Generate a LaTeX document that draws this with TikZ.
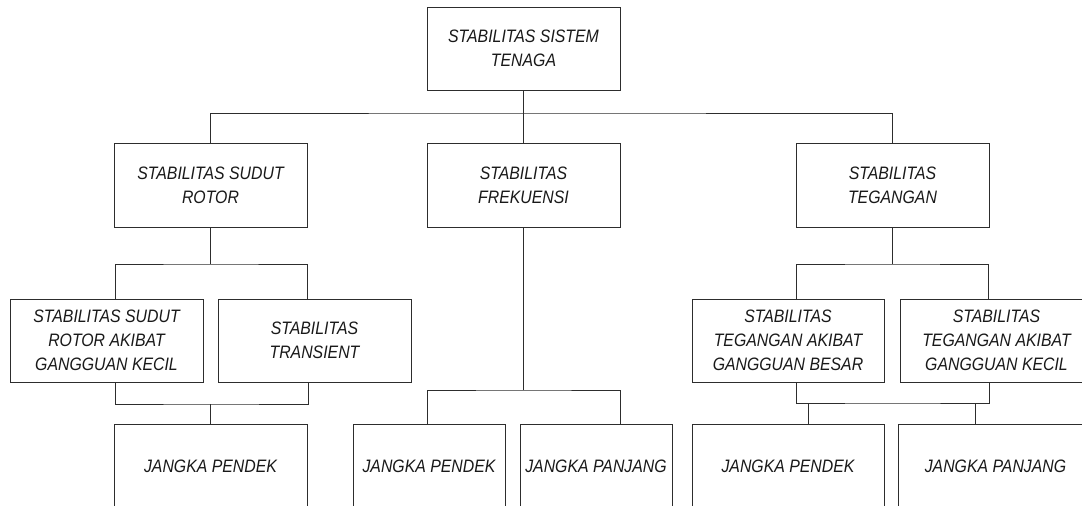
\documentclass[tikz,border=0pt]{standalone}
\usepackage{fontspec}
\setmainfont{Liberation Sans}[FakeStretch=0.88]
\definecolor{edge}{RGB}{45,45,45}
\definecolor{ink}{RGB}{25,25,25}
\begin{document}
\begin{tikzpicture}[x=1pt,y=-1pt,
  box/.style={draw=edge, line width=0.9pt, rectangle, inner sep=0pt,
    minimum width=193pt, minimum height=84pt, align=center, text=ink,
    font=\fontsize{18pt}{24pt}\selectfont\itshape},
  narrowbox/.style={box, minimum width=152pt},
  link/.style={draw=edge, line width=0.9pt}]
\useasboundingbox (0,0) rectangle (1082,506);
\clip (0,0) rectangle (1082,506);
\fill[white] (0,0) rectangle (1082,506);

% level 1
\node[box, minimum height=83pt] (top) at (523.5,48.5) {STABILITAS SISTEM\\TENAGA};

% level 2
\node[box] (rotor) at (210.5,185) {STABILITAS SUDUT\\ROTOR};
\node[box] (frek)  at (523.5,185) {STABILITAS\\FREKUENSI};
\node[box] (teg)   at (892.5,185) {STABILITAS\\TEGANGAN};

% level 3
\node[box, minimum height=83pt] (rk) at (106.5,340.5) {STABILITAS SUDUT\\ROTOR AKIBAT\\GANGGUAN KECIL};
\node[box, minimum height=83pt] (tr) at (314.5,340.5) {STABILITAS\\TRANSIENT};
\node[box, minimum height=83pt, minimum width=192pt] (tb) at (788,340.5) {STABILITAS\\TEGANGAN AKIBAT\\GANGGUAN BESAR};
\node[box, minimum height=83pt] (tk) at (996.5,340.5) {STABILITAS\\TEGANGAN AKIBAT\\GANGGUAN KECIL};

% level 4 (time frames)
\node[box] (jpa) at (210.5,466) {JANGKA PENDEK};
\node[narrowbox] (jpb) at (429,466) {JANGKA PENDEK};
\node[narrowbox] (jqb) at (596,466) {JANGKA PANJANG};
\node[box, minimum width=192pt] (jpc) at (788,466) {JANGKA PENDEK};
\node[box, minimum width=195pt] (jqc) at (995.5,466) {JANGKA PANJANG};

% bus coordinates
\coordinate (b1) at (523.5,113);
\coordinate (b2) at (210.5,264);
\coordinate (b3) at (892.5,264);
\coordinate (b4) at (210.5,404);
\coordinate (b5) at (523.5,390);
\coordinate (b6) at (892.5,403);

% top to level 2
\draw[link] (top.south) -- (b1);
\draw[link] (rotor.north) |- (b1) -| (teg.north);
\draw[link] (b1) -- (frek.north);

% rotor branch
\draw[link] (rotor.south) -- (b2);
\draw[link] ([xshift=8.5pt]rk.north) |- (b2) -| ([xshift=-7.5pt]tr.north);
\draw[link] ([xshift=8.5pt]rk.south) |- (b4) -| ([xshift=-6.5pt]tr.south);
\draw[link] (b4) -- (jpa.north);

% frequency branch
\draw[link] (frek.south) -- (b5);
\draw[link] ([xshift=-2pt]jpb.north) |- (b5) -| ([xshift=24pt]jqb.north);

% voltage branch
\draw[link] (teg.south) -- (b3);
\draw[link] ([xshift=8pt]tb.north) |- (b3) -| ([xshift=-8.5pt]tk.north);
\draw[link] ([xshift=8pt]tb.south) |- (b6) -| ([xshift=-7.5pt]tk.south);
\draw[link] ([xshift=20pt]jpc.north) -- ([xshift=20pt]jpc.north |- b6);
\draw[link] ([xshift=-20.5pt]jqc.north) -- ([xshift=-20.5pt]jqc.north |- b6);
\end{tikzpicture}
\end{document}
